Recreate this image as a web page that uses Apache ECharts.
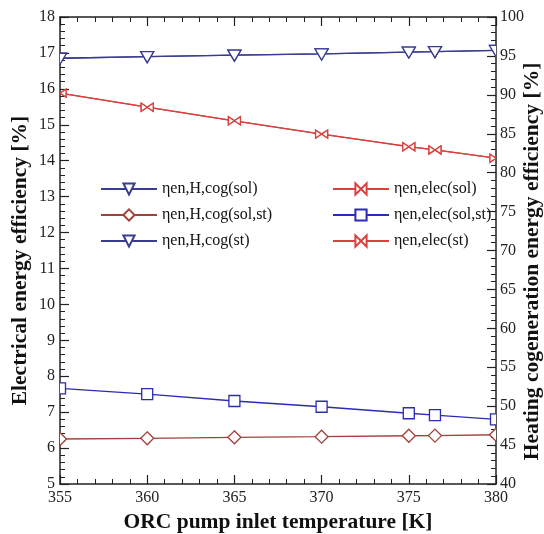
<!DOCTYPE html>
<html>
<head>
<meta charset="utf-8">
<script src="https://cdn.jsdelivr.net/npm/echarts@6/dist/echarts.min.js"></script>
<style>
  html, body { margin: 0; padding: 0; background: #fff; }
  #chart { width: 544px; height: 534px; }
</style>
</head>
<body>
<div id="chart"></div>
<script>
// ORC pump inlet temperature [K]
const temperatures = [355, 360, 365, 370, 375, 376.5, 380];

// Heating cogeneration energy efficiency [%] (right axis)
const heatCogSol   = [94.7, 94.9, 95.1, 95.25, 95.5, 95.55, 95.7];
const heatCogSolSt = [45.78, 45.87, 46.0, 46.08, 46.2, 46.22, 46.33];
const heatCogSt    = [94.7, 94.9, 95.1, 95.25, 95.5, 95.55, 95.7];

// Electrical energy efficiency [%] (left axis)
const elecSol   = [15.88, 15.49, 15.11, 14.74, 14.39, 14.30, 14.07];
const elecSolSt = [7.66, 7.50, 7.31, 7.15, 6.97, 6.92, 6.80];
const elecSt    = [15.88, 15.49, 15.11, 14.74, 14.39, 14.30, 14.07];

const xTicks = { min: 355, max: 380, interval: 5 };
const leftTicks = { min: 5, max: 18, interval: 1 };
const rightTicks = { min: 40, max: 100, interval: 5 };

const FONT = '"Liberation Serif", "Times New Roman", serif';
const AXIS_COLOR = '#222';

const BLUE_TRI = '#3a3d8e';
const BLUE_SQ = '#2b2bb3';
const RED = '#d8413f';
const BROWN = '#a3403b';

const bowtiePath = 'path://M0,0 L0,10 L10,5 Z M20,0 L20,10 L10,5 Z';

// Marker outlines (relative to the data point) drawn by the custom series,
// so that markers sitting on the frame are cut by the plot area.
const markerShapes = {
  triDown: [[[-6.5, -5], [6.5, -5], [0, 6]]],
  diamond: [[[0, -6.5], [6.5, 0], [0, 6.5], [-6.5, 0]]],
  square: [[[-5.5, -5.5], [5.5, -5.5], [5.5, 5.5], [-5.5, 5.5]]],
  bowtie: [[[-6, -4], [-6, 4], [0, 0]], [[6, -4], [6, 4], [0, 0]]]
};

function pairs(values) {
  return temperatures.map((t, i) => ({ value: [t, values[i]], symbol: 'none' }));
}

function lineSeries(name, values, yAxisIndex, color, symbol, size, rotate) {
  return {
    name: name,
    type: 'line',
    yAxisIndex: yAxisIndex,
    data: pairs(values),
    symbol: symbol,
    symbolSize: size,
    symbolRotate: rotate || 0,
    clip: true,
    lineStyle: { color: color, width: 1.3 },
    itemStyle: { color: '#fff', borderColor: color, borderWidth: 1.3 },
    emphasis: { disabled: true },
    z: 2
  };
}

function markerSeries(values, yAxisIndex, color, shapeKey) {
  return {
    type: 'custom',
    yAxisIndex: yAxisIndex,
    data: temperatures.map((t, i) => [t, values[i]]),
    clip: true,
    silent: true,
    z: 3,
    renderItem: function (params, api) {
      const p = api.coord([api.value(0), api.value(1)]);
      return {
        type: 'group',
        children: markerShapes[shapeKey].map(poly => ({
          type: 'polygon',
          shape: { points: poly.map(q => [p[0] + q[0], p[1] + q[1]]) },
          style: { fill: '#fff', stroke: color, lineWidth: 1.3 }
        }))
      };
    }
  };
}

const series = [
  lineSeries('ηen,H,cog(sol)', heatCogSol, 1, BLUE_TRI, 'triangle', [14, 12], 180),
  lineSeries('ηen,H,cog(sol,st)', heatCogSolSt, 1, BROWN, 'diamond', [14, 14]),
  lineSeries('ηen,H,cog(st)', heatCogSt, 1, BLUE_TRI, 'triangle', [14, 12], 180),
  lineSeries('ηen,elec(sol)', elecSol, 0, RED, bowtiePath, [13, 8]),
  lineSeries('ηen,elec(sol,st)', elecSolSt, 0, BLUE_SQ, 'rect', [11, 11]),
  lineSeries('ηen,elec(st)', elecSt, 0, RED, bowtiePath, [13, 8]),
  markerSeries(heatCogSol, 1, BLUE_TRI, 'triDown'),
  markerSeries(heatCogSolSt, 1, BROWN, 'diamond'),
  markerSeries(heatCogSt, 1, BLUE_TRI, 'triDown'),
  markerSeries(elecSol, 0, RED, 'bowtie'),
  markerSeries(elecSolSt, 0, BLUE_SQ, 'square'),
  markerSeries(elecSt, 0, RED, 'bowtie')
];

const legendText = {
  fontFamily: FONT,
  fontSize: 16,
  color: '#111',
  lineHeight: 16
};

function legendBlock(names, left) {
  return {
    orient: 'vertical',
    left: left,
    top: 176,
    itemWidth: 56,
    itemHeight: 14,
    itemGap: 10,
    data: names,
    textStyle: legendText,
    selectedMode: false
  };
}

function inwardTicks(minorCount) {
  return {
    axisTick: { show: true, inside: true, length: 9, lineStyle: { color: AXIS_COLOR, width: 1.2 } },
    minorTick: { show: true, splitNumber: minorCount, length: 5, lineStyle: { color: AXIS_COLOR, width: 1 } },
    axisLine: { show: true, onZero: false, lineStyle: { color: AXIS_COLOR, width: 1.5 } },
    splitLine: { show: false }
  };
}

const labelStyle = { fontFamily: FONT, fontSize: 16, color: '#222' };
const titleStyle = { fontFamily: FONT, fontSize: 21.5, fontWeight: 'bold', color: '#111' };

const option = {
  animation: false,
  backgroundColor: '#fff',
  grid: { left: 60, right: 48, top: 17, bottom: 50, containLabel: false, outerBoundsMode: 'none' },
  legend: [
    legendBlock(['ηen,H,cog(sol)', 'ηen,H,cog(sol,st)', 'ηen,H,cog(st)'], 95),
    legendBlock(['ηen,elec(sol)', 'ηen,elec(sol,st)', 'ηen,elec(st)'], 327)
  ],
  xAxis: [
    Object.assign({
      type: 'value',
      position: 'bottom',
      min: xTicks.min, max: xTicks.max, interval: xTicks.interval,
      axisLabel: Object.assign({ margin: 6 }, labelStyle),
      name: 'ORC pump inlet temperature [K]',
      nameLocation: 'middle',
      nameGap: 27,
      nameMoveOverlap: false,
      nameTextStyle: titleStyle
    }, inwardTicks(5)),
    Object.assign({
      type: 'value',
      position: 'top',
      min: xTicks.min, max: xTicks.max, interval: xTicks.interval,
      axisLabel: { show: false }
    }, inwardTicks(5))
  ],
  yAxis: [
    Object.assign({
      type: 'value',
      position: 'left',
      min: leftTicks.min, max: leftTicks.max, interval: leftTicks.interval,
      axisLabel: Object.assign({ margin: 5 }, labelStyle),
      name: 'Electrical energy efficiency [%]',
      nameLocation: 'middle',
      nameRotate: 90,
      nameGap: 29,
      nameMoveOverlap: false,
      nameTextStyle: Object.assign({ padding: [0, 20, 0, 0] }, titleStyle)
    }, inwardTicks(5)),
    Object.assign({
      type: 'value',
      position: 'right',
      min: rightTicks.min, max: rightTicks.max, interval: rightTicks.interval,
      axisLabel: Object.assign({ margin: 4 }, labelStyle),
      name: 'Heating cogeneration energy efficiency [%]',
      nameLocation: 'middle',
      nameRotate: 90,
      nameGap: 25,
      nameMoveOverlap: false,
      nameTextStyle: Object.assign({ padding: [0, 22, 0, 0] }, titleStyle)
    }, inwardTicks(5))
  ],
  series: series
};

const chart = echarts.init(document.getElementById('chart'), null, { renderer: 'canvas' });
chart.setOption(option);
</script>
</body>
</html>
